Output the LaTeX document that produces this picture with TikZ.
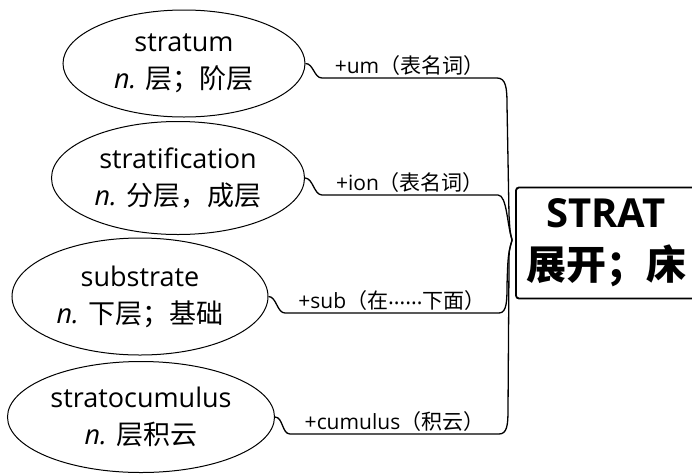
\documentclass[tikz,border=0pt]{standalone}
\usepackage{fontspec}
\setmainfont{Open Sans}
\newfontfamily\cjk{Noto Sans CJK SC}
\usetikzlibrary{positioning,shapes.geometric}

\tikzset{
  word/.style={ellipse, draw, line width=1pt, inner sep=0pt, align=center,
    font=\fontsize{27}{37}\selectfont},
  affix/.style={above, inner sep=1.5pt, font=\fontsize{21}{24}\selectfont},
  branch/.style={line width=1.3pt},
}
% puntini a meta altezza
\newcommand{\middots}{\raisebox{0.22em}{\fontsize{22}{22}\selectfont ……}}

\begin{document}
\begin{tikzpicture}[x=1pt, y=-1pt]
\useasboundingbox (0,0) rectangle (692,474);

% Radice: riquadro a destra, tagliato dal bordo
\node[draw, line width=1.8pt, rounded corners=3pt, minimum width=180pt, minimum height=111pt,
  align=center, font=\bfseries\fontsize{40}{52}\selectfont] (strat) at (606,243)
  {STRAT\\{\cjk 展开；床}};
\coordinate (hub) at ([xshift=-3pt, yshift=3pt]strat.west);

% Parole derivate (ellissi)
\node[word, minimum width=242pt, minimum height=107pt] (stratum) at (184,63.5)
  {stratum\\{\itshape n.} {\cjk 层；阶层}};
\node[word, minimum width=253pt, minimum height=113pt] (stratification) at (178,178)
  {stratification\\{\itshape n.} {\cjk 分层，成层}};
\node[word, minimum width=256pt, minimum height=117pt] (substrate) at (140,296.5)
  {substrate\\{\itshape n.} {\cjk 下层；基础}};
\node[word, minimum width=267pt, minimum height=111pt] (stratocumulus) at (141,417)
  {stratocumulus\\{\itshape n.} {\cjk 层积云}};

% Rami verso la radice, con l'affisso sopra il tratto orizzontale
\draw[branch] (stratum.east) .. controls +(8,0) and +(-8,0) .. (322,78)
  -- node[affix] {+um{\cjk（表名词）}} (497,78)
  .. controls (506,78) and (507,88) .. (507,105)
  -- (509,215) .. controls (510,232) .. (hub);
\draw[branch] (stratification.east) .. controls +(8,0) and +(-8,0) .. (322,195)
  -- node[affix] {+ion{\cjk（表名词）}} (498,195)
  .. controls (507,195) and (507,225) .. (hub);
\draw[branch] (substrate.east) .. controls +(8,0) and +(-8,0) .. (285,313)
  -- node[affix] {+sub{\cjk（在}\middots{\cjk 下面）}} (499,313)
  .. controls (507,313) and (507,300) .. (507,285)
  .. controls (508,255) .. (hub);
\draw[branch] (stratocumulus.east) .. controls +(8,0) and +(-8,0) .. (290,434)
  -- node[affix] {+cumulus{\cjk（积云）}} (499,434)
  .. controls (507,434) and (508,425) .. (508,410)
  -- (509,265) .. controls (509,250) .. (hub);

\end{tikzpicture}
\end{document}
